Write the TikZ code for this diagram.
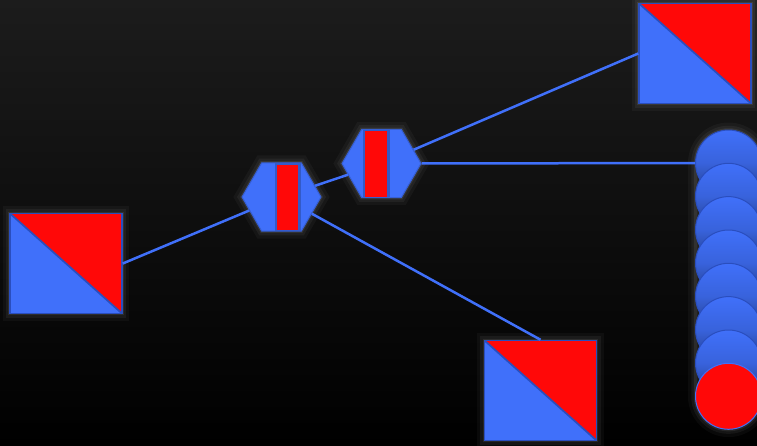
\documentclass[tikz,border=0pt]{standalone}
\usepackage{tikz}
\usetikzlibrary{shapes.geometric}
\definecolor{NodeBlue}{RGB}{64, 112, 250}
\definecolor{NodeRed}{RGB}{255, 8, 8}
\definecolor{EdgeBlue}{RGB}{42, 78, 190}
\definecolor{BgTop}{RGB}{28, 28, 28}

\tikzset{
  glow/.style={
    preaction={draw=white, draw opacity=0.035, line width=0.30cm},
    preaction={draw=white, draw opacity=0.05, line width=0.17cm},
    preaction={draw=white, draw opacity=0.08, line width=0.07cm}},
  splitbox/.style={glow, rectangle, fill=NodeBlue, draw=EdgeBlue, line width=0.03cm,
    minimum width=2.24cm, minimum height=2cm, inner sep=0pt,
    path picture={
      \fill[NodeRed] (path picture bounding box.north west) -- (path picture bounding box.north east)
        -- (path picture bounding box.south east) -- cycle;
      \draw[EdgeBlue, line width=0.035cm] (path picture bounding box.north west) -- (path picture bounding box.south east);}},
  hexnode/.style={glow, regular polygon, regular polygon sides=6, minimum size=1.58cm, inner sep=0pt,
    fill=NodeBlue, draw=NodeBlue!85!black, line width=0.02cm},
  redbar/.style 2 args={path picture={
      \fill[NodeBlue!80!black] ([xshift=#1-0.05cm]path picture bounding box.north) rectangle ([xshift=#2+0.05cm]path picture bounding box.south);
      \fill[NodeRed] ([xshift=#1, yshift=-0.04cm]path picture bounding box.north) rectangle ([xshift=#2, yshift=0.02cm]path picture bounding box.south);}},
  ball/.style={circle, minimum size=1.32cm, inner sep=0pt, draw=EdgeBlue, line width=0.02cm,
    top color=NodeBlue, bottom color=NodeBlue!55!black, middle color=NodeBlue!88!black},
  link/.style={NodeBlue, line width=0.05cm}
}

\begin{document}
\begin{tikzpicture}[x=0.02cm, y=-0.02cm]
    \useasboundingbox (0,0) rectangle (757,446);
    % Backdrop
    \shade[top color=BgTop, bottom color=black] (0,0) rectangle (757,446);

    % Split squares
    \node[splitbox] (leftsq) at (66, 263.5) {};
    \node[splitbox] (topsq) at (695, 53.5) {};
    \node[splitbox] (lowsq) at (540.5, 390.5) {};

    % Hexagons
    \node[hexnode, redbar={-0.09cm}{0.33cm}] (hexa) at (281.5, 197) {};
    \node[hexnode, redbar={-0.33cm}{0.11cm}] (hexb) at (381.5, 163.5) {};

    % Stack of balls (one glow behind the whole stack)
    \path[glow, rounded corners=0.66cm] (695.5, 130) rectangle (761.5, 429.6);
    \node[ball] (ballone) at (728.5, 163) {};
    \node[ball] (balltwo) at (728.5, 196.3) {};
    \node[ball] (ballthree) at (728.5, 229.6) {};
    \node[ball] (ballfour) at (728.5, 263) {};
    \node[ball] (ballfive) at (728.5, 296.3) {};
    \node[ball] (ballsix) at (728.5, 329.6) {};
    \node[ball] (ballseven) at (728.5, 363) {};
    \node[ball, top color=NodeRed, bottom color=NodeRed, middle color=NodeRed, draw=NodeBlue] (ballred) at (728.5, 396.3) {};

    % Links
    \draw[link] (leftsq.east) -- (hexa);
    \draw[link] (hexa) -- (hexb);
    \draw[link] (hexb) -- (topsq.west);
    \draw[link] (hexb.east) -- (ballone.west);
    \draw[link] (hexa) -- (lowsq.north);
\end{tikzpicture}
\end{document}
